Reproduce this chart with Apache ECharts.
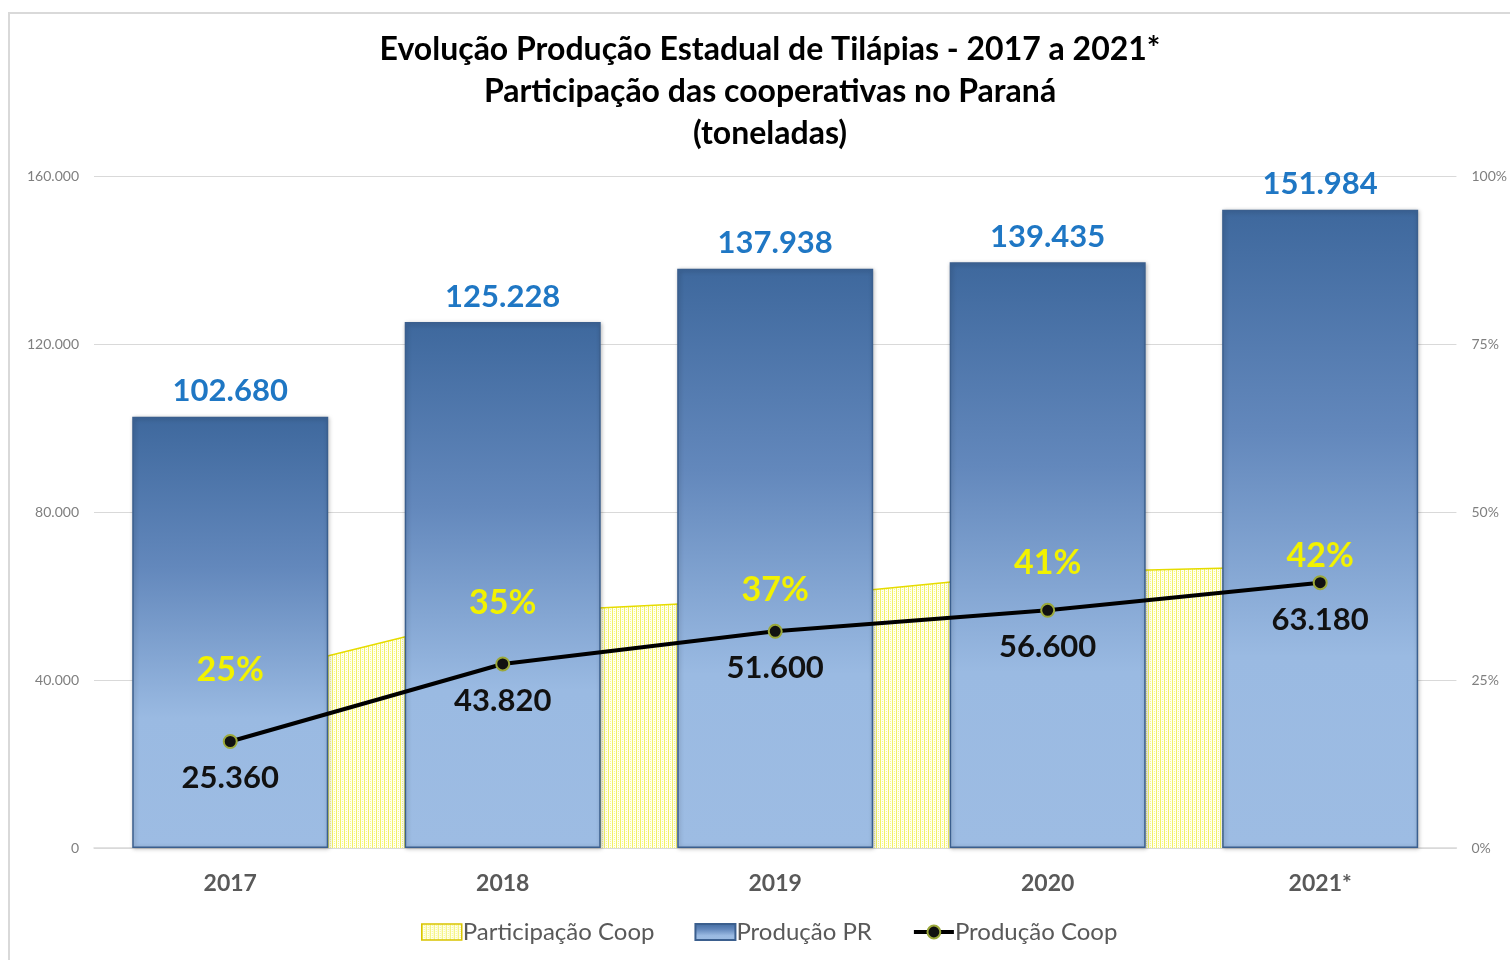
<!DOCTYPE html>
<html>
<head>
<meta charset="utf-8">
<script src="https://cdn.jsdelivr.net/npm/echarts@6/dist/echarts.min.js"></script>
<style>
html,body{margin:0;padding:0;background:#fff;overflow:hidden;width:1510px;height:960px;}
#frame{position:absolute;left:8px;top:12px;width:1600px;height:1000px;border:2px solid #D9D9D9;box-sizing:border-box;}
#chart{position:absolute;left:0;top:0;width:1510px;height:960px;}
</style>
</head>
<body>
<div id="frame"></div>
<div id="chart"></div>
<script>
const categories = ['2017', '2018', '2019', '2020', '2021*'];
const producaoPR = [102680, 125228, 137938, 139435, 151984];
const producaoCoop = [25360, 43820, 51600, 56600, 63180];
const participacaoCoop = [25, 35, 37, 41, 42];
const leftTicks = { min: 0, max: 160000, interval: 40000 };
const rightTicks = { min: 0, max: 100, interval: 25 };

function fmt(v) {
  return String(Math.round(v)).replace(/\B(?=(\d{3})+(?!\d))/g, '.');
}

// hatch pattern for the participation area
const pc = document.createElement('canvas');
pc.width = 4; pc.height = 4;
const g = pc.getContext('2d');
g.fillStyle = '#FFFFF0';
g.fillRect(0, 0, 4, 4);
g.fillStyle = '#F2F266';
g.fillRect(0, 0, 1, 4);
g.fillStyle = '#F7F78A';
g.fillRect(2, 1, 1, 1);
g.fillRect(2, 3, 1, 1);

const FONT = 'Lato';
const chart = echarts.init(document.getElementById('chart'));
chart.setOption({
  backgroundColor: 'transparent',
  animation: false,
  title: {
    text: 'Evolução Produção Estadual de Tilápias - 2017 a 2021*\nParticipação das cooperativas no Paraná\n(toneladas)',
    left: 765, top: 24, textAlign: 'center',
    textStyle: { fontFamily: FONT, fontWeight: 'bold', fontSize: 32, lineHeight: 42, color: '#000' }
  },
  legend: {
    bottom: 11, left: 416, itemGap: 40, itemWidth: 40, itemHeight: 16,
    textStyle: { fontFamily: FONT, fontSize: 24, color: '#595959', padding: [0, 0, 0, -4] },
    data: [
      { name: 'Participação Coop', icon: 'rect', itemStyle: { borderColor: '#D9C400', borderWidth: 1.5 } },
      { name: 'Produção PR', icon: 'rect' },
      { name: 'Produção Coop', lineStyle: { width: 4 } }
    ]
  },
  grid: { left: 94, right: 44, top: 176, bottom: 112 },
  xAxis: {
    type: 'category', data: categories,
    axisLine: { lineStyle: { color: '#D9D9D9', width: 1.5 } },
    axisTick: { show: false },
    axisLabel: { fontFamily: FONT, fontWeight: 'bold', fontSize: 23, color: '#595959', margin: 24 }
  },
  yAxis: [
    {
      type: 'value', min: leftTicks.min, max: leftTicks.max, interval: leftTicks.interval,
      axisLabel: { formatter: fmt, fontFamily: FONT, fontSize: 14, color: '#7F7F7F', margin: 15 },
      splitLine: { lineStyle: { color: '#D9D9D9', width: 1.2 } },
      axisLine: { show: false }, axisTick: { show: false }
    },
    {
      type: 'value', min: rightTicks.min, max: rightTicks.max, interval: rightTicks.interval,
      axisLabel: { formatter: '{value}%', fontFamily: FONT, fontSize: 14, color: '#7F7F7F', margin: 15 },
      splitLine: { show: false }, axisLine: { show: false }, axisTick: { show: false }
    }
  ],
  series: [
    {
      name: 'Participação Coop', type: 'line', yAxisIndex: 1, data: participacaoCoop, z: 1,
      symbol: 'none', lineStyle: { color: '#E6DC00', width: 1.5 },
      itemStyle: { color: { image: pc, repeat: 'repeat' } },
      areaStyle: { color: { image: pc, repeat: 'repeat' }, opacity: 1 }
    },
    {
      name: 'Produção PR', type: 'bar', data: producaoPR, barWidth: 196, z: 2,
      itemStyle: {
        borderColor: '#3B5F8E', borderWidth: 1.5,
        color: { type: 'linear', x: 0, y: 0, x2: 0, y2: 1, colorStops: [
          { offset: 0, color: '#3E689D' },
          { offset: 0.35, color: '#6388BC' },
          { offset: 0.7, color: '#9ABAE2' },
          { offset: 1, color: '#9DBCE3' }
        ] },
        shadowColor: 'rgba(0,0,0,0.25)', shadowBlur: 4, shadowOffsetX: 1, shadowOffsetY: 1
      },
      label: {
        show: true, position: 'top', distance: 10, formatter: p => fmt(p.value),
        fontFamily: FONT, fontWeight: 'bold', fontSize: 31, color: '#1F77C4'
      }
    },
    {
      name: 'Produção Coop', type: 'line', data: producaoCoop, z: 4,
      symbol: 'circle', symbolSize: 13,
      lineStyle: { color: '#000', width: 4 },
      itemStyle: { color: '#111', borderColor: '#9BA83A', borderWidth: 2 },
      label: {
        show: true, position: 'bottom', distance: 14, formatter: p => fmt(p.value),
        fontFamily: FONT, fontWeight: 'bold', fontSize: 31, color: '#111'
      }
    },
    {
      name: 'labels', type: 'line', yAxisIndex: 1, data: participacaoCoop, z: 5,
      symbol: 'circle', symbolSize: 1, silent: true,
      lineStyle: { opacity: 0 }, itemStyle: { color: 'rgba(0,0,0,0)' },
      label: {
        show: true, position: 'top', distance: -8, formatter: '{c}%',
        fontFamily: FONT, fontWeight: 'bold', fontSize: 34, color: '#F2F200'
      }
    }
  ]
});
</script>
</body>
</html>
